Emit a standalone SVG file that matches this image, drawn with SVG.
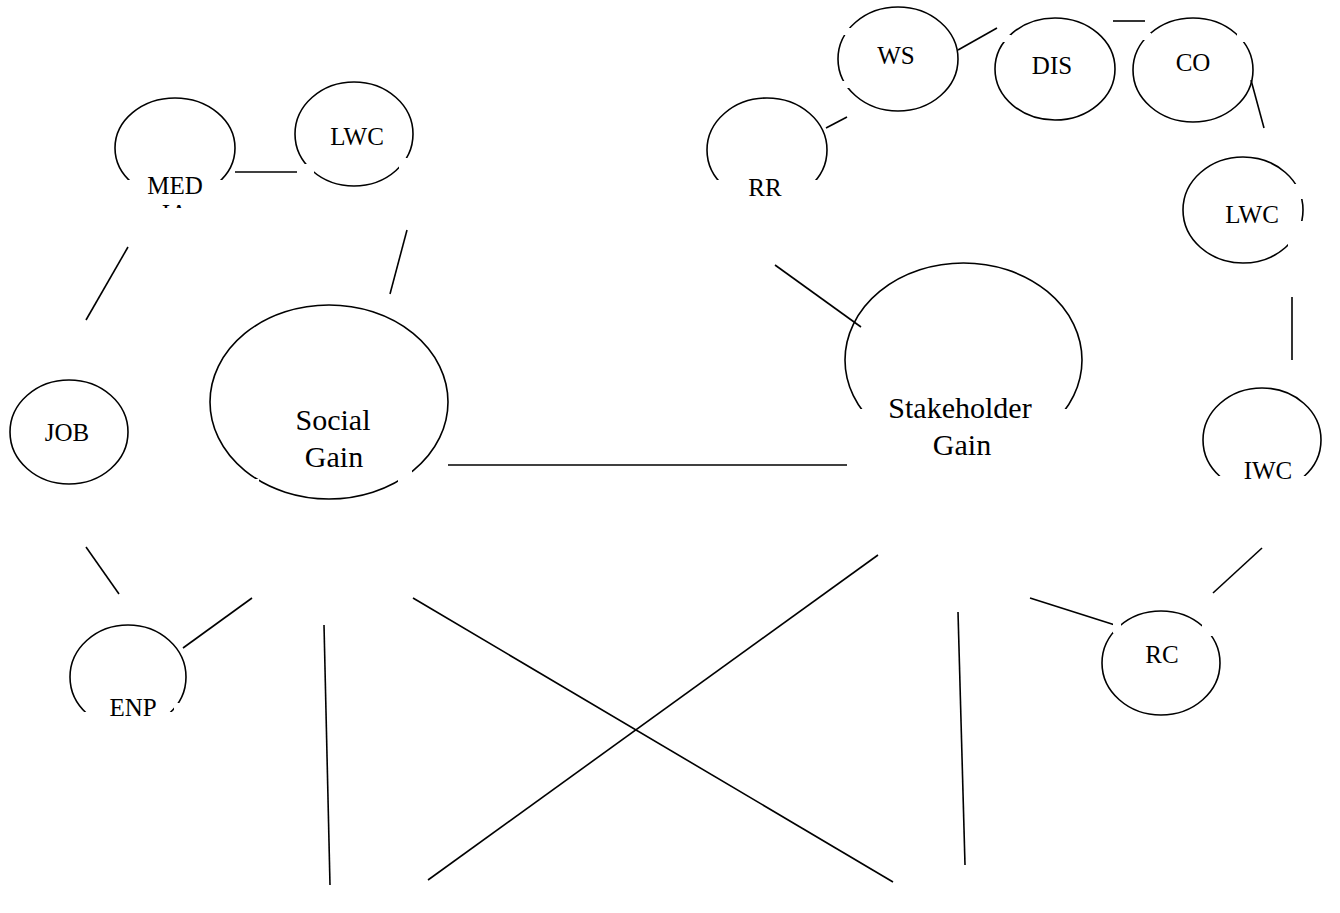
<svg xmlns="http://www.w3.org/2000/svg" width="1340" height="913" viewBox="0 0 1340 913">
<defs>
<style>
.n{fill:none;stroke:#000;stroke-width:1.6}
.tb{fill:#fff;stroke:none}
.t{font-family:"Liberation Serif","Times New Roman",serif;font-size:25px;fill:#000;text-anchor:middle}
.b{font-size:30px}
#connectors line{stroke:#000;stroke-width:1.6}
</style>
<clipPath id="medclip"><rect x="118" y="180" width="114" height="28"/></clipPath>
</defs>
<rect width="1340" height="913" fill="#fff"/>
<g id="connectors">
<line x1="235" y1="172" x2="297" y2="172"/>
<line x1="407" y1="230" x2="390" y2="294"/>
<line x1="128" y1="247" x2="86" y2="320"/>
<line x1="86" y1="547" x2="119" y2="594"/>
<line x1="252" y1="598" x2="183" y2="648"/>
<line x1="448" y1="465" x2="847" y2="465"/>
<line x1="324" y1="625" x2="330" y2="885"/>
<line x1="413" y1="598" x2="893" y2="882"/>
<line x1="878" y1="555" x2="428" y2="880"/>
<line x1="958" y1="612" x2="965" y2="865"/>
<line x1="775" y1="265" x2="861" y2="327"/>
<line x1="1030" y1="598" x2="1115" y2="625"/>
<line x1="1262" y1="548" x2="1213" y2="593"/>
<line x1="1292" y1="297" x2="1292" y2="360"/>
<line x1="1251" y1="80" x2="1264" y2="128"/>
<line x1="1113" y1="21" x2="1145" y2="21"/>
<line x1="958" y1="50" x2="997" y2="28"/>
<line x1="826" y1="128" x2="847" y2="117"/>
</g>
<g id="med">
<ellipse class="n" cx="175" cy="148" rx="60" ry="50"/>
<rect class="tb" x="118" y="180" width="114" height="28"/>
<text class="t" x="175" y="194">MED</text>
<text class="t" x="175" y="222" clip-path="url(#medclip)">IA</text>
</g>
<g id="lwc1">
<ellipse class="n" cx="354" cy="134" rx="59" ry="52"/>
<rect class="tb" x="304" y="164" width="10" height="9"/>
<rect class="tb" x="399" y="158" width="14" height="11"/>
<text class="t" x="357" y="145">LWC</text>
</g>
<g id="job">
<ellipse class="n" cx="69" cy="432" rx="59" ry="52"/>
<text class="t" x="67" y="441">JOB</text>
</g>
<g id="enp">
<ellipse class="n" cx="128" cy="677" rx="58" ry="52"/>
<rect class="tb" x="80" y="712" width="100" height="25"/>
<rect class="tb" x="174" y="703" width="16" height="12"/>
<text class="t" x="133" y="716">ENP</text>
</g>
<g id="social">
<ellipse class="n" cx="329" cy="402" rx="119" ry="97"/>
<rect class="tb" x="250" y="479" width="9" height="9"/>
<rect class="tb" x="398" y="470" width="14" height="12"/>
<text class="t b" x="333" y="430">Social</text>
<text class="t b" x="334" y="467">Gain</text>
</g>
<g id="stakeholder">
<ellipse class="n" cx="963.5" cy="360" rx="118.5" ry="97"/>
<rect class="tb" x="852" y="409" width="222" height="52"/>
<text class="t b" x="960" y="418">Stakeholder</text>
<text class="t b" x="962" y="455">Gain</text>
</g>
<g id="rr">
<ellipse class="n" cx="767" cy="150" rx="60" ry="52"/>
<rect class="tb" x="705" y="180" width="124" height="25"/>
<text class="t" x="765" y="196">RR</text>
</g>
<g id="ws">
<ellipse class="n" cx="898" cy="59" rx="60" ry="52"/>
<rect class="tb" x="842" y="28" width="11" height="7"/>
<rect class="tb" x="842" y="81" width="11" height="7"/>
<text class="t" x="896" y="64">WS</text>
</g>
<g id="dis">
<ellipse class="n" cx="1055" cy="69" rx="60" ry="51"/>
<rect class="tb" x="1002" y="35" width="9" height="7"/>
<text class="t" x="1052" y="74">DIS</text>
</g>
<g id="co">
<ellipse class="n" cx="1193" cy="70" rx="60" ry="52"/>
<rect class="tb" x="1143" y="33" width="8" height="7"/>
<rect class="tb" x="1237" y="34" width="8" height="8"/>
<text class="t" x="1193" y="71">CO</text>
</g>
<g id="lwc2">
<ellipse class="n" cx="1243" cy="210" rx="60" ry="53"/>
<rect class="tb" x="1290" y="184" width="20" height="15"/>
<rect class="tb" x="1288" y="221" width="22" height="26"/>
<text class="t" x="1252" y="223">LWC</text>
</g>
<g id="iwc">
<ellipse class="n" cx="1262" cy="440" rx="59" ry="52"/>
<rect class="tb" x="1215" y="476" width="112" height="22"/>
<text class="t" x="1268" y="479">IWC</text>
</g>
<g id="rc">
<ellipse class="n" cx="1161" cy="663" rx="59" ry="52"/>
<rect class="tb" x="1113" y="622" width="8" height="11"/>
<rect class="tb" x="1202" y="623" width="11" height="13"/>
<text class="t" x="1162" y="663">RC</text>
</g>
</svg>
